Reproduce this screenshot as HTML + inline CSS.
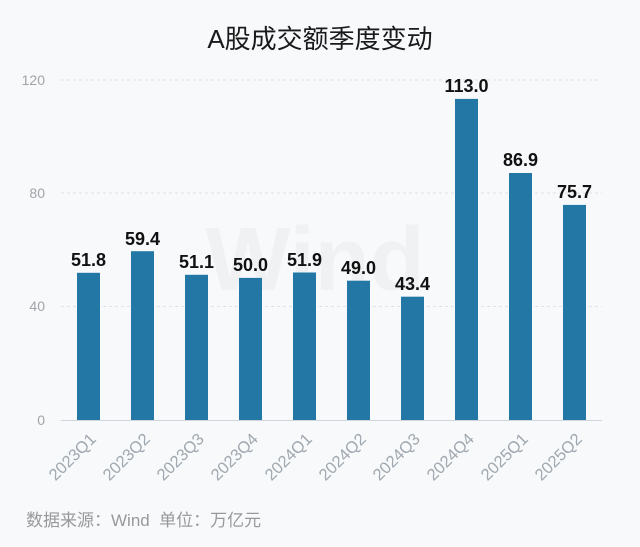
<!DOCTYPE html>
<html><head><meta charset="utf-8"><style>
html,body{margin:0;padding:0;background:#f7f9fb;}
svg{display:block;}
</style></head><body>
<svg width="640" height="547" xmlns="http://www.w3.org/2000/svg" font-family="Liberation Sans, Noto Sans CJK SC, sans-serif">
<rect width="640" height="547" fill="#f7f9fb"/>
<text x="320" y="48" text-anchor="middle" font-size="26" fill="#1a1a1a" font-family="Liberation Sans, Noto Sans CJK SC, sans-serif">A股成交额季度变动</text>
<text x="315" y="290" text-anchor="middle" font-size="90" font-weight="bold" fill="#eef0f2" opacity="0.8">Wind</text>
<g stroke="#dde2e7" stroke-width="1" stroke-dasharray="3,3">
<line x1="61" y1="80" x2="602" y2="80"/>
<line x1="61" y1="193" x2="602" y2="193"/>
<line x1="61" y1="306.5" x2="602" y2="306.5"/>
</g>
<line x1="61" y1="420.5" x2="602" y2="420.5" stroke="#cfd6de" stroke-width="1"/>
<g font-size="14" fill="#a0a4a8" text-anchor="end">
<text x="45" y="85">120</text>
<text x="45" y="198">80</text>
<text x="45" y="311">40</text>
<text x="45" y="425">0</text>
</g>
<g fill="#2277a5">
<rect x="77" y="272.8" width="23" height="147.2"/>
<rect x="131" y="251.2" width="23" height="168.8"/>
<rect x="185" y="274.8" width="23" height="145.2"/>
<rect x="239" y="277.9" width="23" height="142.1"/>
<rect x="293" y="272.5" width="23" height="147.5"/>
<rect x="347" y="280.7" width="23" height="139.3"/>
<rect x="401" y="296.7" width="23" height="123.3"/>
<rect x="455" y="98.9" width="23" height="321.1"/>
<rect x="509" y="173.0" width="23" height="247.0"/>
<rect x="563" y="204.9" width="23" height="215.1"/>
</g>
<g font-size="18" font-weight="bold" fill="#111" text-anchor="middle">
<text x="88.5" y="266">51.8</text>
<text x="142.5" y="245">59.4</text>
<text x="196.5" y="268">51.1</text>
<text x="250.5" y="271">50.0</text>
<text x="304.5" y="266">51.9</text>
<text x="358.5" y="274">49.0</text>
<text x="412.5" y="290">43.4</text>
<text x="466.5" y="92">113.0</text>
<text x="520.5" y="166">86.9</text>
<text x="574.5" y="198">75.7</text>
</g>
<g font-size="16.5" fill="#a0a8b0" text-anchor="end">
<text transform="translate(97,440) rotate(-45)">2023Q1</text>
<text transform="translate(151,440) rotate(-45)">2023Q2</text>
<text transform="translate(205,440) rotate(-45)">2023Q3</text>
<text transform="translate(259,440) rotate(-45)">2023Q4</text>
<text transform="translate(313,440) rotate(-45)">2024Q1</text>
<text transform="translate(367,440) rotate(-45)">2024Q2</text>
<text transform="translate(421,440) rotate(-45)">2024Q3</text>
<text transform="translate(475,440) rotate(-45)">2024Q4</text>
<text transform="translate(529,440) rotate(-45)">2025Q1</text>
<text transform="translate(583,440) rotate(-45)">2025Q2</text>
</g>
<text x="26" y="526" font-size="17" fill="#999" xml:space="preserve">数据来源：Wind  单位：万亿元</text>
</svg>
</body></html>
